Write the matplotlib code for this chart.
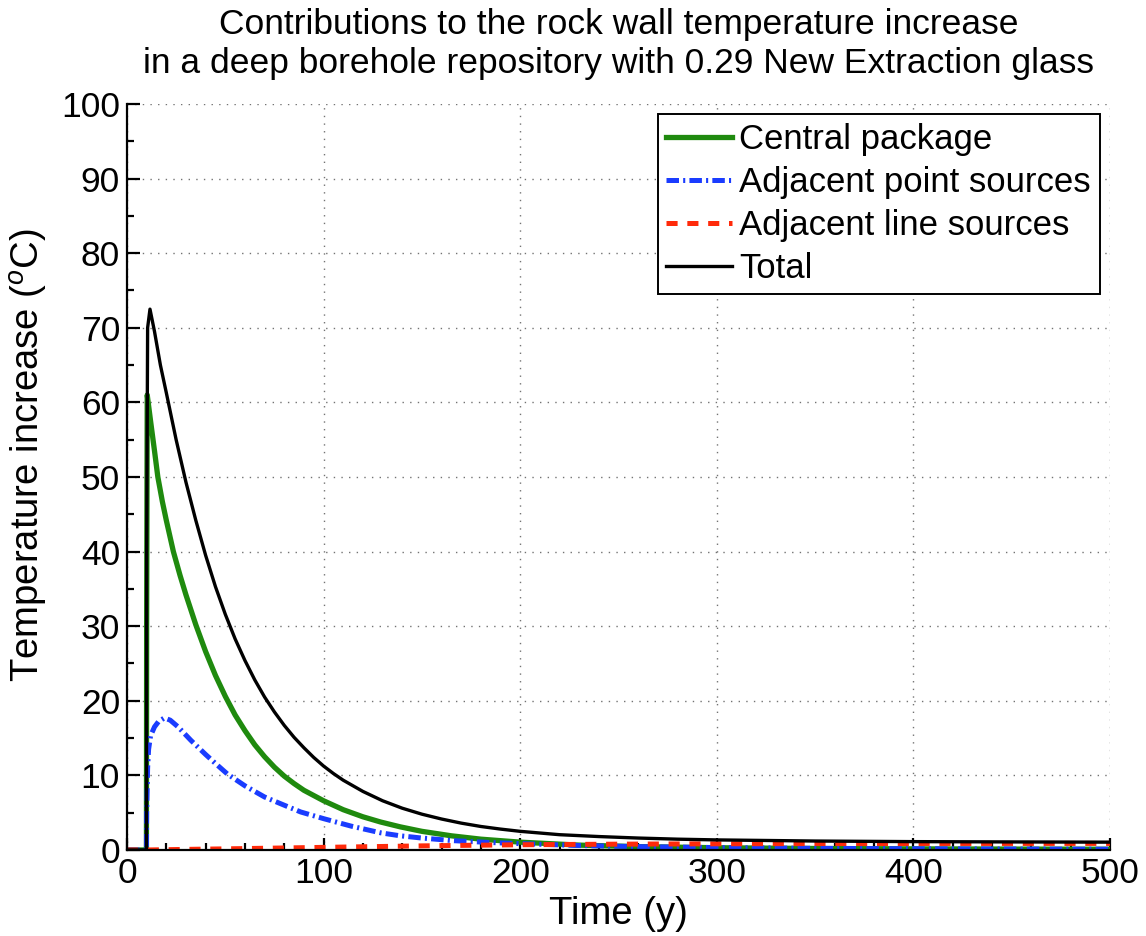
import matplotlib
matplotlib.use("Agg")
import matplotlib.pyplot as plt
from matplotlib.ticker import MultipleLocator

# Central package contribution (time in years, temperature increase in degC)
t_central = [0, 9.9, 10.0, 10.3, 12, 14, 15.7, 18, 20, 23.6, 27, 30, 35, 40, 45,
             50, 55, 60, 65, 70, 75, 80, 85, 90, 95, 100, 110, 120, 129, 139, 150,
             165, 180, 200, 230, 260, 300, 350, 400, 450, 500]
v_central = [0, 0, 30, 61, 57.5, 53.5, 50, 46.7, 44.2, 40, 36.8, 34.2, 30.2, 26.6,
             23.4, 20.6, 18.1, 16, 14.1, 12.5, 11.1, 9.9, 8.9, 8.0, 7.3, 6.6, 5.4,
             4.45, 3.75, 3.1, 2.5, 1.9, 1.45, 1.05, 0.65, 0.45, 0.3, 0.2, 0.15,
             0.12, 0.1]

# Adjacent point sources
t_point = [0, 9.9, 10.0, 10.5, 11, 12, 14, 16, 19, 22, 26, 32.5, 40, 45, 51, 60,
           70, 80, 88.3, 100, 114, 129, 139, 150, 166, 185, 200, 230, 260, 300,
           350, 400, 450, 500]
v_point = [0, 0, 5, 11, 13.5, 15.3, 16.5, 17.2, 17.7, 17.4, 16.5, 14.7, 12.8, 11.6,
           10.2, 8.6, 7.1, 6.0, 5.1, 4.2, 3.2, 2.3, 1.9, 1.6, 1.25, 1.0, 0.85, 0.6,
           0.45, 0.32, 0.22, 0.16, 0.12, 0.1]

# Adjacent line sources
t_line = [0, 10, 30, 50, 75, 100, 125, 150, 175, 200, 250, 300, 350, 400, 450, 500]
v_line = [0, 0, 0.08, 0.15, 0.25, 0.35, 0.45, 0.55, 0.63, 0.7, 0.78, 0.83, 0.86,
          0.87, 0.88, 0.88]

# Total temperature increase
t_total = [0, 9.9, 10.0, 10.5, 11.7, 14, 17, 20, 25, 30, 35, 40, 45, 50, 55, 60,
           65, 70, 75, 80, 85, 90, 95, 100, 105, 110, 120, 130, 140, 150, 160,
           170, 180, 190, 200, 220, 240, 260, 280, 300, 350, 400, 450, 500]
v_total = [0, 0, 40, 70, 72.5, 69.5, 65, 61.3, 55, 49.3, 44.2, 39.5, 35.3, 31.6,
           28.3, 25.4, 22.8, 20.5, 18.5, 16.7, 15.1, 13.7, 12.4, 11.25, 10.25, 9.35,
           7.85, 6.6, 5.6, 4.8, 4.15, 3.6, 3.15, 2.8, 2.5, 2.05, 1.8, 1.6, 1.45,
           1.35, 1.2, 1.12, 1.08, 1.05]

plt.rcParams['font.family'] = ['Liberation Sans', 'DejaVu Sans']
plt.rcParams['mathtext.fontset'] = 'custom'
plt.rcParams['mathtext.rm'] = 'Liberation Sans'
plt.rcParams['mathtext.it'] = 'Liberation Sans:italic'
plt.rcParams['lines.scale_dashes'] = False

TICK_FS = 25.5
LABEL_FS = 27.5
TITLE_FS = 25.5
LEGEND_FS = 25

fig = plt.figure(figsize=(11.46, 9.36), dpi=100)
ax = fig.add_axes([0.1108, 0.0919, 0.8578, 0.797])

ax.plot(t_central, v_central, color='#1f8a0e', lw=3.8, label='Central package')
ax.plot(t_point, v_point, color='#1a3cff', lw=3.6, dashes=(9, 3, 1.5, 3),
        label='Adjacent point sources')
ax.plot(t_line, v_line, color='#ff2a0a', lw=3.6, dashes=(8, 7),
        label='Adjacent line sources')
ax.plot(t_total, v_total, color='black', lw=2.4, label='Total')

ax.set_xlim(0, 500)
ax.set_ylim(0, 100)
ax.xaxis.set_major_locator(MultipleLocator(100))
ax.xaxis.set_minor_locator(MultipleLocator(20))
ax.yaxis.set_major_locator(MultipleLocator(10))
ax.yaxis.set_minor_locator(MultipleLocator(5))

ax.spines['top'].set_visible(False)
ax.spines['right'].set_visible(False)
for s in ('left', 'bottom'):
    ax.spines[s].set_linewidth(1.6)

ax.tick_params(which='both', direction='in', top=False, right=False,
               labelsize=TICK_FS, width=1.6)
ax.tick_params(which='major', length=9, pad=5)
ax.tick_params(which='minor', length=5)

ax.grid(True, which='major', color='0.45', linestyle=(0, (1, 4.5)), lw=1.0)
ax.set_axisbelow(True)

ax.set_xlabel('Time (y)', fontsize=LABEL_FS)
ax.xaxis.set_label_coords(0.5, -0.062)
ax.set_ylabel(r'Temperature increase ($^o$C)', fontsize=LABEL_FS)
ax.yaxis.set_label_coords(-0.078, 0.53)
ax.set_title('Contributions to the rock wall temperature increase\n'
             'in a deep borehole repository with 0.29 New Extraction glass',
             fontsize=TITLE_FS, pad=22, linespacing=1.25)

leg = ax.legend(loc='upper right', fontsize=LEGEND_FS, frameon=True, fancybox=False,
                framealpha=1, edgecolor='black', handlelength=1.9,
                handletextpad=0.2, borderpad=0.25, labelspacing=0.29,
                borderaxespad=0.3)
leg.get_frame().set_linewidth(1.4)

fig.savefig('out.png', dpi=100)
